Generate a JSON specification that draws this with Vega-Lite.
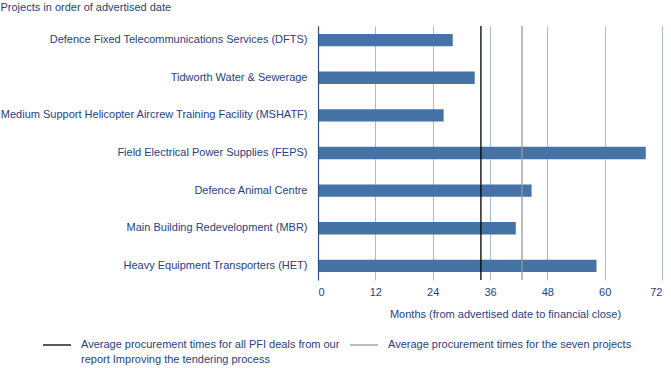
{
  "$schema": "https://vega.github.io/schema/vega-lite/v6.json",
  "autosize": {"type": "none"},
  "width": 344,
  "height": 254,
  "padding": {"left": 318, "top": 26, "right": 9, "bottom": 88},
  "config": {
    "view": {"stroke": null},
    "font": "Liberation Sans",
    "axis": {"labelColor": "#1f4383", "titleColor": "#1f4383", "labelFont": "Liberation Sans", "titleFont": "Liberation Sans", "titleFontWeight": "normal"},
    "legend": {"labelColor": "#1f4383", "labelFont": "Liberation Sans"}
  },
  "datasets": {
    "projects": [
      {"project": "Defence Fixed Telecommunications Services (DFTS)", "months": 28.2},
      {"project": "Tidworth Water & Sewerage", "months": 32.8},
      {"project": "Medium Support Helicopter Aircrew Training Facility (MSHATF)", "months": 26.3},
      {"project": "Field Electrical Power Supplies (FEPS)", "months": 68.6},
      {"project": "Defence Animal Centre", "months": 44.7},
      {"project": "Main Building Redevelopment (MBR)", "months": 41.4},
      {"project": "Heavy Equipment Transporters (HET)", "months": 58.3}
    ],
    "averages": [
      {"series": "Average procurement times for all PFI deals from our|report Improving the tendering process", "months": 34.1},
      {"series": "Average procurement times for the seven projects", "months": 42.7}
    ]
  },
  "layer": [
    {
      "data": {"name": "projects"},
      "mark": {"type": "bar", "color": "#4673a5"},
      "encoding": {
        "y": {
          "field": "project", "type": "nominal", "sort": null,
          "scale": {"paddingInner": 0.67, "paddingOuter": 0.21},
          "axis": {
            "title": "Projects in order of advertised date",
            "titleAngle": 0, "titleAlign": "left", "titleBaseline": "top",
            "titleX": -318, "titleY": -25, "titleFontSize": 11,
            "labelFontSize": 11, "labelPadding": 11, "labelLimit": 400,
            "ticks": false, "domainColor": "#2b4f8c", "domainWidth": 1.2, "zindex": 1
          }
        },
        "x": {
          "field": "months", "type": "quantitative",
          "scale": {"domain": [0, 72], "nice": false},
          "axis": {
            "values": [0, 12, 24, 36, 48, 60, 72],
            "title": "Months (from advertised date to financial close)",
            "titleFontSize": 11, "titleX": 187, "titlePadding": 11,
            "labelFontSize": 11, "labelPadding": 6,
            "ticks": false, "domain": false,
            "grid": true, "gridColor": "#a3bbd3", "gridWidth": 1
          }
        }
      }
    },
    {
      "data": {"name": "averages"},
      "mark": {"type": "rule", "strokeWidth": 1.3},
      "encoding": {
        "x": {"field": "months", "type": "quantitative"},
        "color": {
          "field": "series", "type": "nominal", "sort": null,
          "scale": {"range": ["#000000", "#9a9a9a"]},
          "legend": {
            "title": null, "orient": "none", "legendX": -276, "legendY": 304,
            "direction": "horizontal", "columns": 2,
            "symbolType": "stroke", "symbolSize": 784, "symbolStrokeWidth": 1.3,
            "labelFontSize": 11, "labelLimit": 500, "labelOffset": 9,
            "columnPadding": 7, "labelBaseline": "top",
            "labelExpr": "indexof(datum.label, '|') >= 0 ? split(datum.label, '|') : [datum.label, ' ']",
            "encode": {"labels": {"update": {"dy": {"value": -6}, "lineHeight": {"value": 15}}}}
          }
        }
      }
    }
  ]
}
